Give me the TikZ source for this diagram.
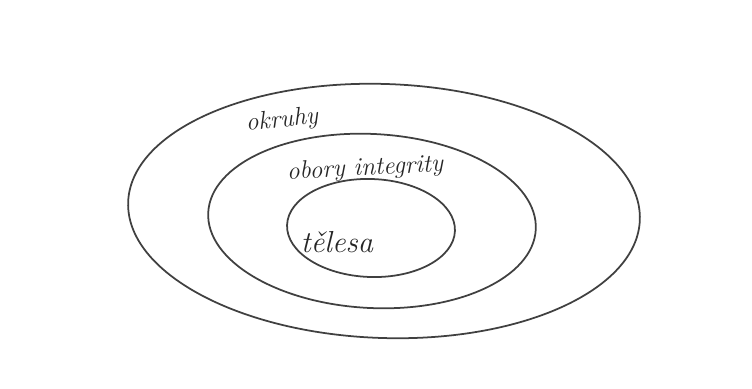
\documentclass[tikz,border=0pt]{standalone}
\usepackage{tikz}

\begin{document}
\begin{tikzpicture}[
    x=0.02cm, y=-0.02cm,
    ring/.style={draw=black!75, line width=1pt},
    setlabel/.style={font=\Large\itshape, text=black!85, inner sep=1pt}
]
    \useasboundingbox (0, 0) rectangle (752, 389);

    % Nested sets, outer to inner
    \draw[ring, rotate around={-2:(384, 211)}] (384, 211) ellipse [x radius=256, y radius=127];
    \draw[ring, rotate around={-3:(372, 221)}] (372, 221) ellipse [x radius=164, y radius=87];
    \draw[ring, rotate around={-2:(371, 228)}] (371, 228) ellipse [x radius=84, y radius=49];

    \node[setlabel, rotate=6] (okruhy) at (282, 121) {okruhy};
    \node[setlabel, rotate=3] (obory) at (365, 169) {obory integrity};
    \node[setlabel, font=\LARGE\itshape] (telesa) at (337, 242) {tělesa};
\end{tikzpicture}
\end{document}
